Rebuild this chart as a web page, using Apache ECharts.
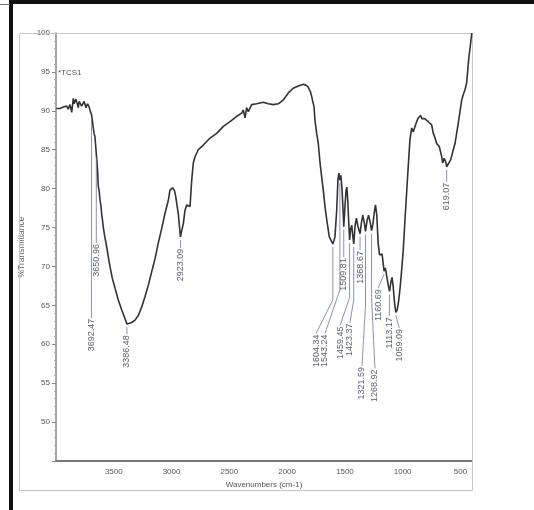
<!DOCTYPE html>
<html>
<head>
<meta charset="utf-8">
<script src="https://cdn.jsdelivr.net/npm/echarts@6/dist/echarts.min.js"></script>
<style>
  html, body { margin: 0; padding: 0; background: #fff; }
  #chart { width: 534px; height: 510px; }
</style>
</head>
<body>
<div id="chart"></div>
<script>
// FT-IR spectrum of sample *TCS1 (wavenumber in cm-1, %T)
const wavenumbers = [
  3998, 3985, 3965, 3950, 3937, 3920, 3907, 3894, 3879, 3864, 3858, 3850, 3843, 3836, 3828, 3821,
  3814, 3807, 3800, 3792, 3778, 3764, 3756, 3749, 3741, 3734, 3727, 3720, 3713, 3706, 3698, 3692.47,
  3682, 3671, 3663, 3657, 3650.96, 3645, 3639, 3634, 3627, 3619, 3612, 3605, 3598, 3591, 3580, 3561,
  3547, 3533, 3513, 3489, 3461, 3431, 3403, 3386.48, 3365, 3345, 3316, 3288, 3258, 3230, 3201, 3172,
  3143, 3115, 3085, 3057, 3028, 3014, 2994, 2976, 2964, 2942, 2930, 2923.09, 2912, 2898, 2884, 2869,
  2855, 2840, 2826, 2812, 2797, 2769, 2725, 2667, 2609, 2552, 2494, 2436, 2393, 2379, 2364, 2350,
  2336, 2307, 2263, 2206, 2163, 2120, 2076, 2033, 1990, 1947, 1903, 1860, 1852, 1845, 1838, 1831,
  1820, 1808, 1797, 1787, 1767, 1759, 1744, 1730, 1724, 1715, 1701, 1687, 1672, 1657, 1644, 1635,
  1614, 1604.34, 1595, 1586, 1571, 1560, 1552, 1543.24, 1535, 1525, 1515, 1509.81, 1500, 1490, 1483, 1475,
  1466, 1459.45, 1450, 1440, 1432, 1423.37, 1412, 1400, 1388, 1378, 1368.67, 1358, 1345, 1332, 1321.59, 1308,
  1295, 1280, 1268.92, 1258, 1245, 1235, 1224, 1212, 1200, 1188, 1178, 1168, 1160.69, 1150, 1138, 1125,
  1113.17, 1103, 1092, 1082, 1070, 1059.09, 1048, 1035, 1022, 1010, 995, 980, 966, 952, 937, 922,
  908, 893, 879, 865, 844, 834, 822, 810, 798, 778, 762, 749, 735, 720, 706, 683,
  662, 654, 640, 625, 619.07, 600, 585, 562, 547, 533, 520, 510, 489, 475, 461, 446,
  432, 426, 411, 402
];
const transmittance = [
  90.3, 90.2, 90.3, 90.1, 90.5, 90.4, 90.6, 90.2, 90.8, 89.8, 90.6, 91.6, 90.9, 91.0, 91.5, 91.4,
  90.8, 90.4, 91.2, 91.2, 90.6, 90.8, 91.2, 91.0, 90.4, 90.4, 90.9, 90.8, 90.5, 90.1, 89.9, 89.5,
  88.4, 87.1, 86.7, 85.6, 84.4, 83.4, 82.0, 80.3, 79.8, 78.5, 77.9, 76.8, 76.0, 75.1, 74.0, 72.5,
  71.2, 70.0, 68.5, 67.2, 65.7, 64.4, 63.3, 62.6, 62.7, 62.8, 63.1, 63.7, 64.8, 66.1, 67.6, 69.3,
  71.0, 73.0, 74.9, 76.8, 78.5, 79.8, 80.1, 79.8, 79.0, 76.8, 74.9, 73.8, 74.6, 75.5, 77.2, 77.9,
  78.1, 77.7, 81.0, 83.3, 84.1, 85.0, 85.6, 86.5, 87.1, 88.0, 88.6, 89.3, 89.7, 90.1, 89.1, 90.4,
  89.9, 90.8, 90.9, 91.1, 90.9, 90.8, 90.9, 91.4, 92.3, 92.9, 93.2, 93.4, 93.2, 93.6, 93.3, 93.4,
  93.1, 92.9, 92.4, 91.8, 90.5, 88.8, 87.1, 85.8, 84.8, 83.3, 81.5, 79.8, 77.7, 76.0, 74.7, 73.8,
  73.2, 72.9, 73.3, 73.8, 77.2, 81.2, 82.0, 81.1, 81.7, 80.0, 77.0, 75.1, 77.5, 79.8, 80.2, 78.5,
  75.5, 73.4, 74.8, 75.3, 74.0, 72.9, 75.2, 76.2, 75.2, 75.0, 74.2, 75.5, 76.6, 75.6, 74.5, 75.9,
  76.6, 75.6, 74.6, 75.4, 77.0, 77.9, 76.6, 73.0, 71.5, 71.3, 71.6, 70.3, 69.4, 69.8, 68.8, 67.6,
  66.8, 67.9, 68.6, 67.4, 65.3, 64.1, 64.4, 65.5, 67.3, 69.3, 72.1, 76.0, 79.4, 82.8, 86.3, 87.8,
  87.3, 88.0, 88.6, 89.1, 89.4, 89.0, 88.8, 89.0, 88.9, 88.6, 88.4, 88.2, 87.1, 86.5, 85.8, 85.4,
  84.1, 83.3, 83.9, 83.3, 82.8, 83.3, 83.7, 85.0, 85.8, 87.1, 88.3, 89.3, 91.4, 92.1, 92.7, 93.6,
  96.1, 97.0, 98.8, 100.0
];

// Picked peaks (cm-1)
const peakWavenumbers = [
  3692.47, 3650.96, 3386.48, 2923.09, 1604.34, 1543.24, 1509.81, 1459.45,
  1423.37, 1368.67, 1321.59, 1268.92, 1160.69, 1113.17, 1059.09, 619.07
];
// %T of the spectrum at each picked peak
const peakTransmittance = peakWavenumbers.map(function (p) {
  return transmittance[wavenumbers.indexOf(p)];
});

const xTickValues = [3500, 3000, 2500, 2000, 1500, 1000, 500];

// Peak-label placement: [text wavenumber, text top %T, leader knee %T or null]
const labelLayout = [
  [3692.47, 63.4, null],
  [3650.96, 73.0, null],
  [3386.48, 61.3, null],
  [2923.09, 72.4, null],
  [1749, 61.4, 65.7],
  [1672, 61.4, 67.0],
  [1509.81, 71.2, null],
  [1542, 62.4, 66.0],
  [1456, 62.8, 65.7],
  [1368.67, 72.1, null],
  [1352, 57.2, 65.0],
  [1240, 56.9, 66.0],
  [1213, 67.2, null],
  [1116, 63.6, null],
  [1030, 62.1, null],
  [619.07, 80.9, null]
];

const SANS = '"Liberation Sans", Arial, sans-serif';

const chart = echarts.init(document.getElementById('chart'), null, { renderer: 'canvas' });

chart.setOption({
  animation: false,
  backgroundColor: '#ffffff',
  grid: { left: 56, top: 33, right: 62, bottom: 49, containLabel: false },
  xAxis: {
    type: 'value',
    inverse: true,
    min: 400,
    max: 4000,
    name: 'Wavenumbers (cm-1)',
    nameLocation: 'middle',
    nameGap: 20,
    nameTextStyle: { color: '#555', fontSize: 8, fontFamily: SANS },
    axisLine: { show: true, onZero: false, lineStyle: { color: '#777', width: 2 } },
    axisTick: { show: false },
    axisLabel: {
      customValues: xTickValues,
      color: '#555', fontSize: 8, fontFamily: SANS, margin: 7,
      formatter: function (v) { return String(v); }
    },
    splitLine: { show: false }
  },
  yAxis: {
    type: 'value',
    min: 45,
    max: 100,
    interval: 5,
    name: '%Transmittance',
    nameLocation: 'middle',
    nameGap: 28,
    nameTextStyle: { color: '#666', fontSize: 8.5, fontFamily: SANS },
    axisLine: { show: true, onZero: false, lineStyle: { color: '#8a8a8a', width: 1.5 } },
    axisTick: { show: true, inside: false, length: 4, lineStyle: { color: '#8a8a8a' } },
    minorTick: { show: true, splitNumber: 5, length: 2, lineStyle: { color: '#aaa' } },
    axisLabel: {
      color: '#555', fontSize: 8, fontFamily: SANS, margin: 6,
      formatter: function (v) { return v === 45 ? '' : String(v); }
    },
    splitLine: { show: false }
  },
  graphic: [
    // page frame lines
    { type: 'rect', shape: { x: 10, y: 0, width: 524, height: 4 }, style: { fill: '#111' }, z: 100 },
    { type: 'rect', shape: { x: 9, y: 0, width: 4, height: 510 }, style: { fill: '#111' }, z: 100 },
    { type: 'line', shape: { x1: 0, y1: 4.5, x2: 10, y2: 4.5 }, style: { stroke: '#777', lineWidth: 1 }, z: 100 },
    // plot frame
    { type: 'rect', shape: { x: 19.5, y: 33.5, width: 453, height: 457 }, style: { fill: null, stroke: '#c8c8c8', lineWidth: 1 }, z: 1 },
    // sample name
    { type: 'text', x: 58, y: 69, style: { text: '*TCS1', fill: '#555', font: '8px ' + SANS }, z: 10 }
  ],
  series: [
    {
      type: 'line',
      data: wavenumbers.map(function (w, i) { return [w, transmittance[i]]; }),
      symbol: 'none',
      smooth: false,
      lineStyle: { color: '#333333', width: 1.6 },
      clip: true,
      z: 5
    },
    {
      type: 'custom',
      data: peakWavenumbers.map(function (w, i) { return [w, peakTransmittance[i]]; }),
      clip: false,
      z: 6,
      renderItem: function (params, api) {
        const i = params.dataIndex;
        const w = api.value(0), t = api.value(1);
        const lay = labelLayout[i];
        const pts = [api.coord([w, t - 0.4])];
        if (lay[2] != null) pts.push(api.coord([w, lay[2]]));
        const end = api.coord([lay[0], lay[1]]);
        pts.push(end);
        return {
          type: 'group',
          children: [
            { type: 'polyline', shape: { points: pts }, style: { stroke: '#6e75a8', lineWidth: 0.8, fill: null } },
            {
              type: 'text', x: end[0], y: end[1] + 1, rotation: Math.PI / 2,
              style: {
                text: w.toFixed(2), align: 'right', verticalAlign: 'middle',
                fill: '#5a5f72', font: '9px ' + SANS
              }
            }
          ]
        };
      }
    }
  ]
});
</script>
</body>
</html>
